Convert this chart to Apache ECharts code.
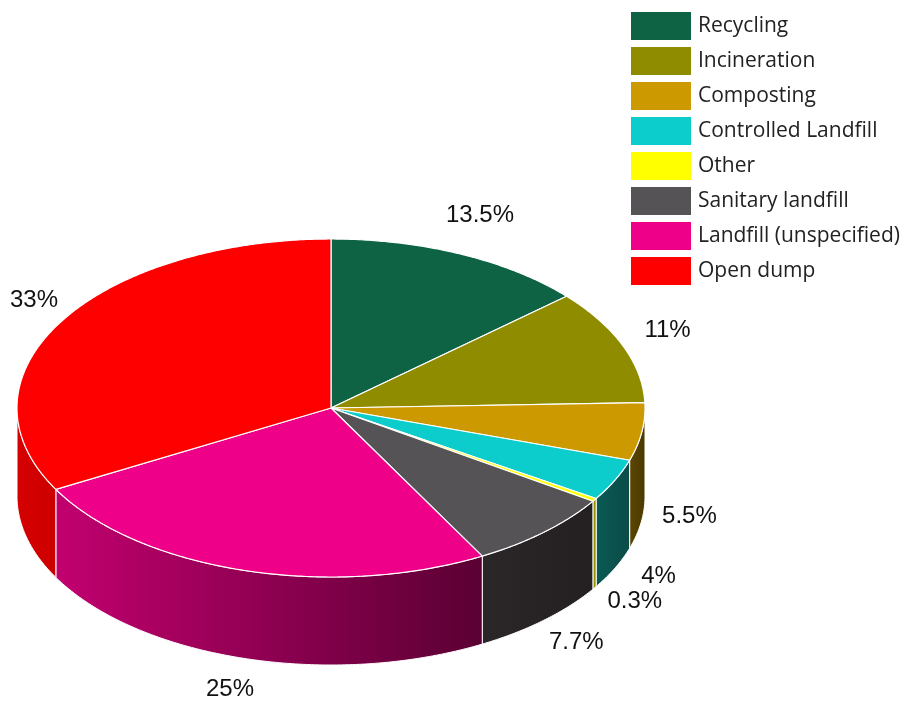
<!DOCTYPE html>
<html><head><meta charset="utf-8">
<script src="https://cdn.jsdelivr.net/npm/echarts@6/dist/echarts.min.js"></script>
<style>html,body{margin:0;padding:0;background:#fff}#c{width:919px;height:701px}</style>
</head><body><div id="c"></div>
<script>
const categories = ['Recycling','Incineration','Composting','Controlled Landfill','Other','Sanitary landfill','Landfill (unspecified)','Open dump'];
const shares = [13.5, 11, 5.5, 4, 0.3, 7.7, 25, 33];
const shareLabels = ['13.5%','11%','5.5%','4%','0.3%','7.7%','25%','33%'];
const topColors = ['#0d6344','#8f8c00','#cc9900','#0ccccc','#ffff00','#555355','#ee0088','#ff0000'];
const wallColors = [['#0a4a33','#08402c'],['#6b6900','#5a5800'],['#5c4600','#4a3800'],['#0b5a55','#0a4b47'],['#9a9a00','#8a8a00'],['#2b2628','#242022'],['#c2006f','#5a0033'],['#d60000','#cc0000']];

const total = shares.reduce((a, b) => a + b, 0);
const starts = [];
let acc = 0;
shares.forEach(v => { starts.push(acc); acc += v; });

const labelFont = '24px "Liberation Sans", Arial, sans-serif';
const measureCtx = document.createElement('canvas').getContext('2d');
measureCtx.font = labelFont;

const geo = { cx: 331, cy: 408, rx: 314, ry: 169, depth: 88, gapX: 48, gapY: 42, labelDrop: 79, edgeMargin: 10 };
function pt(deg, dy) {
  const r = deg * Math.PI / 180;
  return [geo.cx + geo.rx * Math.sin(r), geo.cy - geo.ry * Math.cos(r) + (dy || 0)];
}
function arc(a1, a2, dy) {
  const n = Math.max(2, Math.ceil(Math.abs(a2 - a1) / 0.5));
  const out = [];
  for (let k = 0; k <= n; k++) out.push(pt(a1 + (a2 - a1) * k / n, dy));
  return out;
}

function makeRender(i) {
  return function (params, api) {
    const v = api.value(0);
    const a1 = starts[i] / total * 360;
    const a2 = (starts[i] + v) / total * 360;
    const children = [];
    const s = Math.max(a1, 90), e = Math.min(a2, 270);
    if (e > s) {
      const top = arc(s, e, 0);
      const bot = arc(e, s, geo.depth);
      children.push({
        type: 'polygon',
        shape: { points: top.concat(bot) },
        style: {
          fill: new echarts.graphic.LinearGradient(0, 0, 1, 0, [
            { offset: 0, color: wallColors[i][0] },
            { offset: 1, color: wallColors[i][1] }
          ]),
          stroke: '#ffffff', lineWidth: 1
        }
      });
    }
    const pts = [[geo.cx, geo.cy]].concat(arc(a1, a2, 0));
    children.push({
      type: 'polygon',
      shape: { points: pts },
      style: { fill: topColors[i], stroke: '#ffffff', lineWidth: 1.2, lineJoin: 'round' }
    });
    const mid = (a1 + a2) / 2;
    const r = mid * Math.PI / 180;
    const c = Math.cos(r);
    const half = measureCtx.measureText(shareLabels[i]).width / 2;
    let lx = geo.cx + (geo.rx + geo.gapX) * Math.sin(r);
    lx = Math.max(lx, half + geo.edgeMargin);
    const ly = geo.cy - (geo.ry + geo.gapY) * c + (c < 0 ? geo.labelDrop : 0);
    children.push({
      type: 'text',
      style: {
        text: shareLabels[i], x: lx, y: ly,
        align: 'center', verticalAlign: 'middle',
        font: labelFont,
        fill: '#111111'
      }
    });
    return { type: 'group', children: children };
  };
}

const series = categories.map((name, i) => ({
  type: 'custom',
  name: name,
  coordinateSystem: 'none',
  itemStyle: { color: topColors[i] },
  data: [[shares[i]]],
  renderItem: makeRender(i),
  silent: true
}));

const chart = echarts.init(document.getElementById('c'), null, { renderer: 'canvas' });
chart.setOption({
  animation: false,
  backgroundColor: '#ffffff',
  legend: {
    orient: 'vertical',
    left: 626, top: 7,
    icon: 'rect',
    itemWidth: 60, itemHeight: 28, itemGap: 7,
    textStyle: { fontFamily: 'Open Sans', fontSize: 21, color: '#222222', padding: [0, 0, 0, 2] },
    data: categories
  },
  series: series
});
</script>
</body></html>
